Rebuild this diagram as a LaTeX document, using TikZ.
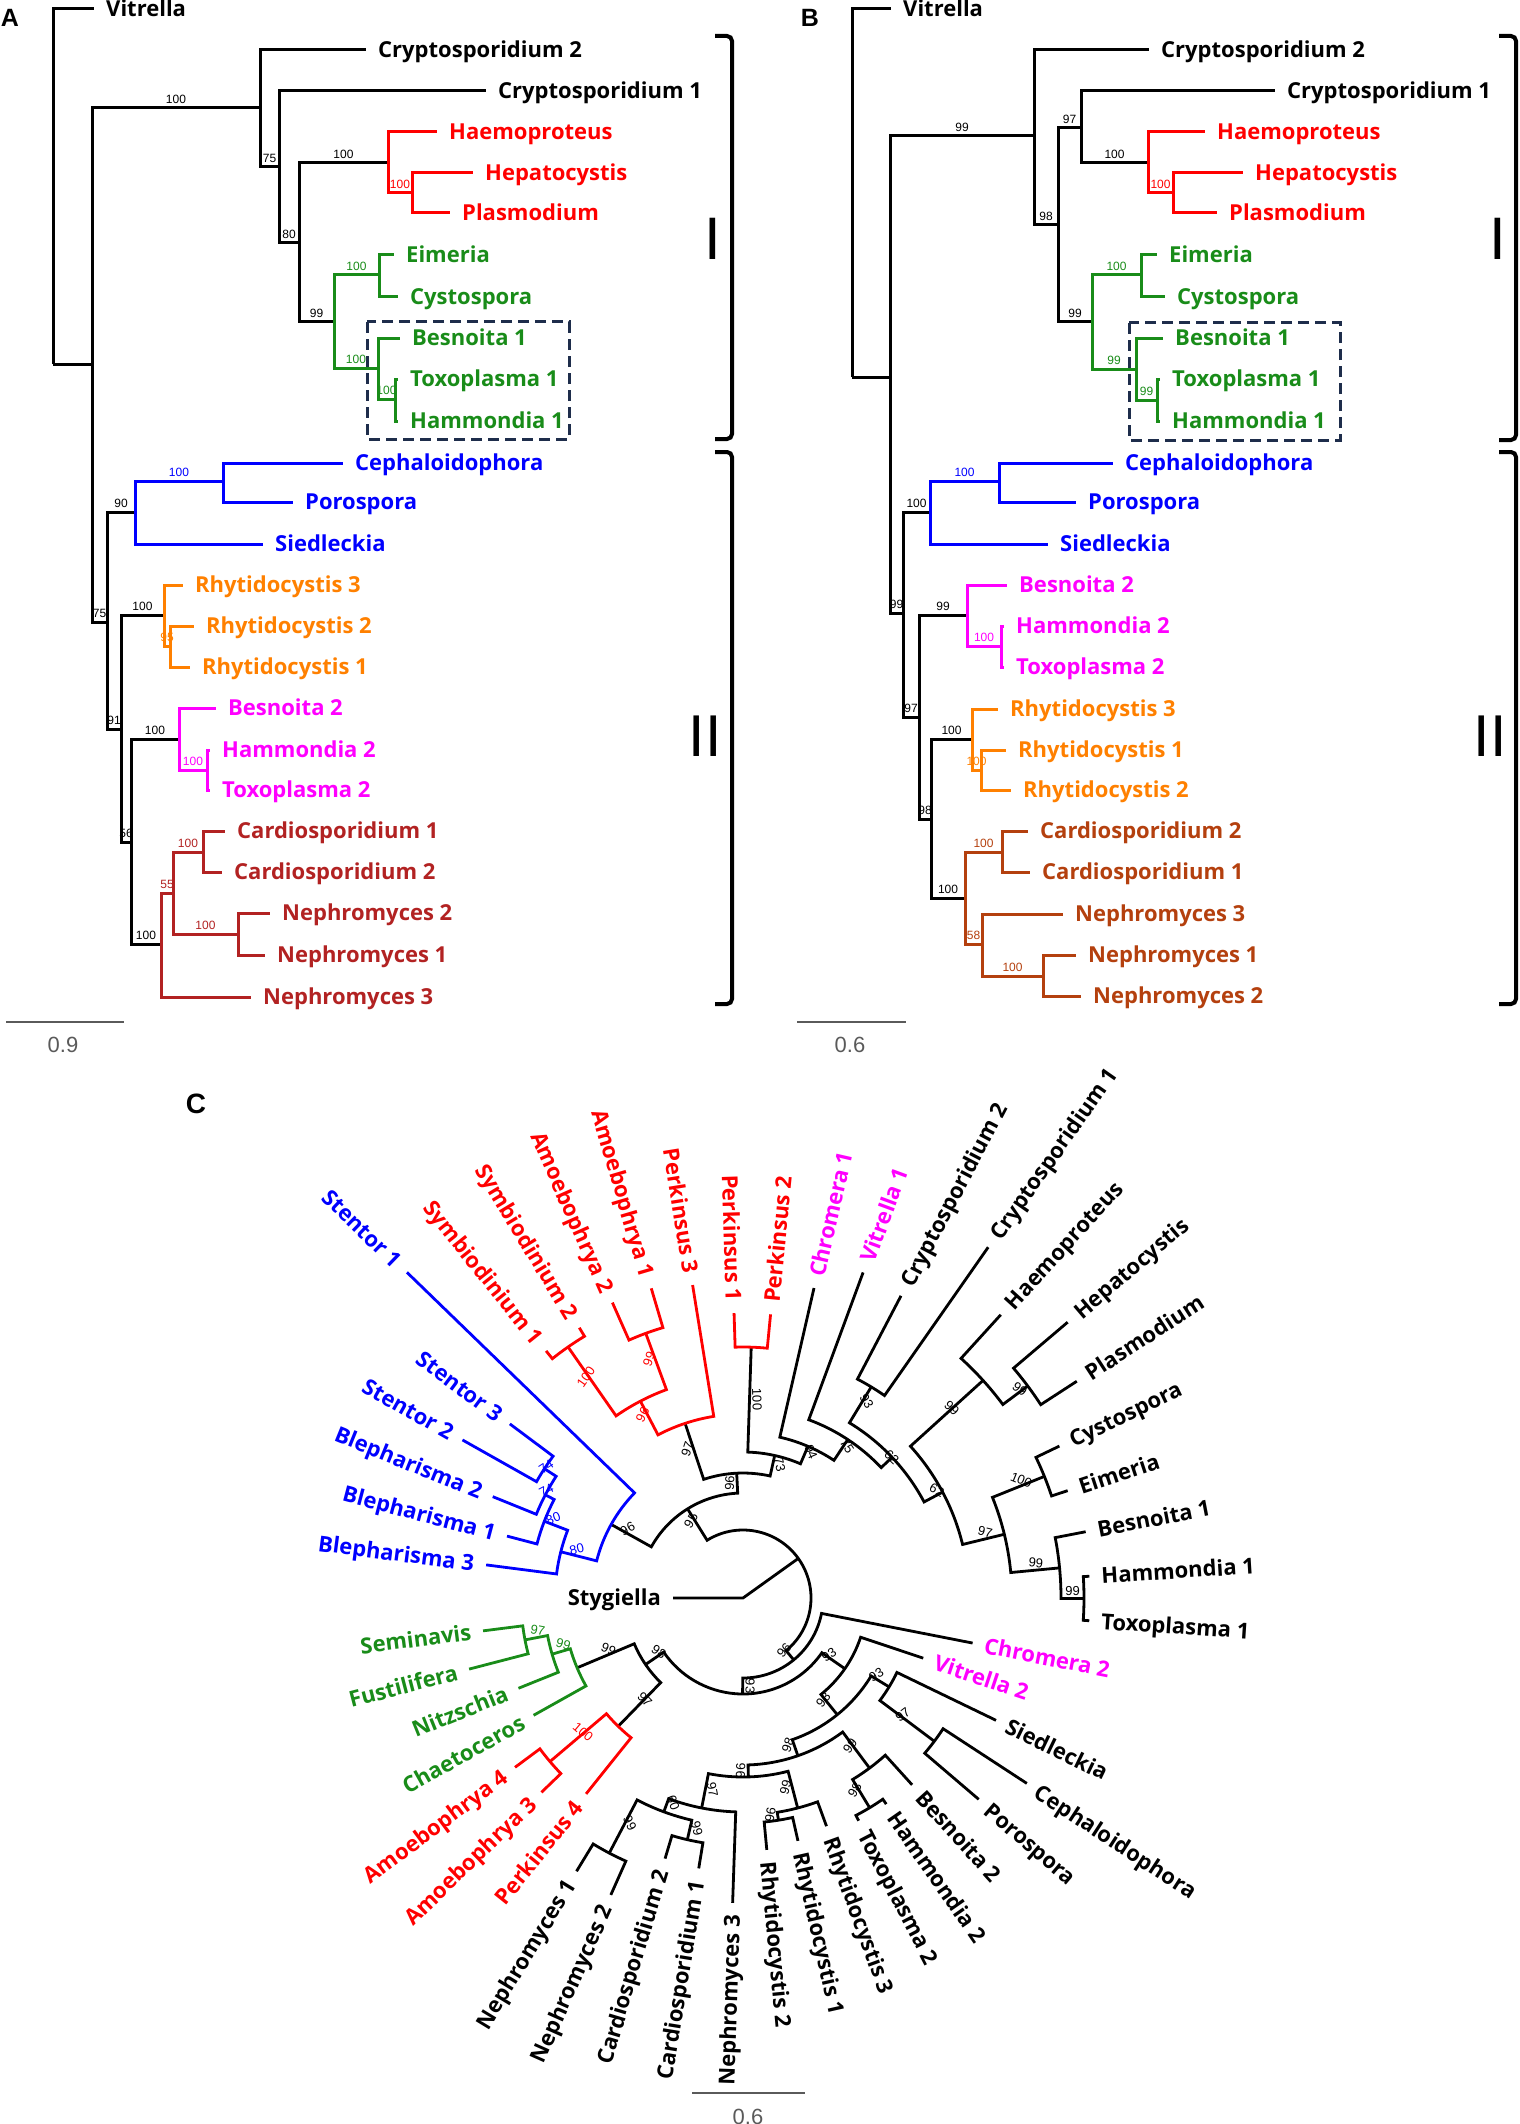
\documentclass[tikz,border=0pt]{standalone}
\usepackage{fontspec}
\setmainfont{Open Sans}
\newfontfamily\numfont{Liberation Sans}
\usetikzlibrary{calc}
\definecolor{treered}{RGB}{255,0,0}
\definecolor{treegreen}{RGB}{25,140,25}
\definecolor{treeblue}{RGB}{0,0,255}
\definecolor{treeorange}{RGB}{255,128,0}
\definecolor{treemagenta}{RGB}{255,0,255}
\definecolor{brownA}{RGB}{178,34,34}
\definecolor{brownB}{RGB}{180,64,14}
\definecolor{boxnavy}{RGB}{30,45,75}
\definecolor{scalegray}{RGB}{90,90,90}
\tikzstyle{branch}=[line width=3pt]
\tikzstyle{taxon}=[anchor=west, inner xsep=12pt, inner ysep=1pt, font=\fontsize{22}{24}\selectfont\bfseries, text height=15.7pt, text depth=0pt]
\tikzstyle{boot}=[pos=0.75, above=3pt, inner sep=0pt, font=\numfont\fontsize{12}{14}\selectfont]
\tikzstyle{cbranch}=[line width=2.8pt]
\tikzstyle{clab}=[midway, sloped, above=1.5pt, inner sep=0pt, font=\numfont\fontsize{13}{15}\selectfont]
\tikzstyle{taxonC}=[inner xsep=12pt, inner ysep=1pt, font=\fontsize{22}{24}\selectfont\bfseries, text height=15.7pt, text depth=0pt]
\tikzstyle{bracket}=[line width=4pt, rounded corners=5pt]
\tikzstyle{roman}=[inner sep=0pt, text depth=0pt, text height=43pt, font=\numfont\fontsize{60}{60}\selectfont]
\tikzstyle{panel}=[inner sep=0pt, text depth=0pt, text height=18pt, font=\numfont\bfseries\fontsize{25}{25}\selectfont]
\tikzstyle{hlbox}=[boxnavy, line width=3pt, dash pattern=on 11pt off 6pt]
\tikzstyle{scalebar}=[scalegray, line width=1.6pt]
\tikzstyle{scalelab}=[scalegray, inner sep=0pt, font=\numfont\fontsize{22}{24}\selectfont]
% one node of the circular tree: r, first child angle/radius/label, second child angle/radius/label
\newcommand\clade[8][black]{%
  \draw[cbranch,#1] (#3:#4) -- node[clab]{#5} (#3:#2)
    arc[start angle=#3, end angle=#6, radius=#2] -- node[clab]{#8} (#6:#7);}

\begin{document}
\begin{tikzpicture}[x=1pt, y=-1pt]
\useasboundingbox (0,0) rectangle (1519,2124);

% ---------------- panel A
\node[panel] (labA) at (10,18) {A};
\foreach \n/\x/\y in {rA/53/364, a1/92/364, a2/260/108, a3/279/167, a4/299/243, a5/388/163,
  a6/412/193, a7/334/322, a8/379/275, a9/378/368, a10/395/399, a12/107/622, a11/135/512,
  ab/223/481, a13/121/729, a14/164/615, a15/170/646, a16/131/842, a17/179/739, a18/207/770,
  a19/161/944, a20/173/893, a21/203/852, a22/238/934}
  \coordinate (\n) at (\x,\y);
\foreach \x/\y/\n/\t/\c in {94/9/vitA/Vitrella/black, 366/50/crA2/Cryptosporidium 2/black,
  486/91/crA1/Cryptosporidium 1/black, 437/132/haeA/Haemoproteus/treered,
  473/173/hepA/Hepatocystis/treered, 450/213/plaA/Plasmodium/treered,
  394/255/eimA/Eimeria/treegreen, 398/297/cysA/Cystospora/treegreen,
  400/338/besA1/Besnoita 1/treegreen, 398/379/toxA1/Toxoplasma 1/treegreen,
  398/421/hamA1/Hammondia 1/treegreen, 343/463/cepA/Cephaloidophora/treeblue,
  293/502/porA/Porospora/treeblue, 263/544/sieA/Siedleckia/treeblue,
  183/585/rhyA3/Rhytidocystis 3/treeorange, 194/626/rhyA2/Rhytidocystis 2/treeorange,
  190/667/rhyA1/Rhytidocystis 1/treeorange, 216/708/besA2/Besnoita 2/treemagenta,
  210/750/hamA2/Hammondia 2/treemagenta, 210/790/toxA2/Toxoplasma 2/treemagenta,
  225/831/carA1/Cardiosporidium 1/brownA, 222/872/carA2/Cardiosporidium 2/brownA,
  270/913/nepA2/Nephromyces 2/brownA, 265/955/nepA1/Nephromyces 1/brownA,
  251/997/nepA3/Nephromyces 3/brownA}
  \node[taxon,\c] (\n) at (\x,\y) {\t};
\foreach \s/\d/\w/\c in {rA/vitA//black, rA/a1//black, a1/a2/100/black, a1/a12/75/black,
  a2/crA2//black, a2/a3/75/black, a3/crA1//black, a3/a4/80/black,
  a4/a5/100/black, a4/a7/99/black, a5/haeA//treered, a5/a6/100/treered,
  a6/hepA//treered, a6/plaA//treered, a7/a8/100/treegreen, a7/a9/100/treegreen,
  a8/eimA//treegreen, a8/cysA//treegreen, a9/besA1//treegreen, a9/a10/100/treegreen,
  a10/toxA1//treegreen, a10/hamA1//treegreen, a12/a11/90/black, a12/a13/91/black,
  a11/ab/100/treeblue, a11/sieA//treeblue, ab/cepA//treeblue, ab/porA//treeblue,
  a13/a14/100/black, a13/a16/56/black, a14/rhyA3//treeorange, a14/a15/95/treeorange,
  a15/rhyA2//treeorange, a15/rhyA1//treeorange, a16/a17/100/black, a16/a19/100/black,
  a17/besA2//treemagenta, a17/a18/100/treemagenta, a18/hamA2//treemagenta, a18/toxA2//treemagenta,
  a19/a20/55/brownA, a19/nepA3//brownA, a20/a21/100/brownA, a20/a22/100/brownA,
  a21/carA1//brownA, a21/carA2//brownA, a22/nepA2//brownA, a22/nepA1//brownA}
  \draw[branch,\c] (\s) |- node[boot]{\w} (\d.west);
\draw[hlbox] (367,322) rectangle (569,439);
\draw[bracket] (715,36) -- (732,36) -- (732,439) -- (715,439);
\draw[bracket] (715,452) -- (732,452) -- (732,1004) -- (715,1004);
\node[roman] (romA1) at (713,238) {I};
\node[roman, font=\numfont\fontsize{59}{59}\selectfont, text height=42pt] (romA2) at (705,735) {II};
\draw[scalebar] (6,1022) -- (124,1022);
\node[scalelab] (scA) at (63,1045) {0.9};

% ---------------- panel B
\node[panel] (labB) at (810,18) {B};
\foreach \n/\x/\y in {rB/852/377, b1/890/377, b2/1034/136, b3/1058/225, b4/1081/128, b5/1148/163,
  b6/1173/193, b7/1092/322, b8/1141/275, b9/1136/369, b10/1157/400, b12/903/613, b11/930/512,
  bb/999/481, b13/919/717, b14/967/615, b15/1001/646, b16/931/819, b17/972/739, b18/981/770,
  b19/965/898, b20/1002/852, b21/982/944, b22/1043/976}
  \coordinate (\n) at (\x,\y);
\foreach \x/\y/\n/\t/\c in {891/9/vitB/Vitrella/black, 1149/50/crB2/Cryptosporidium 2/black,
  1275/91/crB1/Cryptosporidium 1/black, 1205/132/haeB/Haemoproteus/treered,
  1243/173/hepB/Hepatocystis/treered, 1217/213/plaB/Plasmodium/treered,
  1157/255/eimB/Eimeria/treegreen, 1165/297/cysB/Cystospora/treegreen,
  1163/338/besB1/Besnoita 1/treegreen, 1160/379/toxB1/Toxoplasma 1/treegreen,
  1160/421/hamB1/Hammondia 1/treegreen, 1113/463/cepB/Cephaloidophora/treeblue,
  1076/502/porB/Porospora/treeblue, 1048/544/sieB/Siedleckia/treeblue,
  1007/585/besB2/Besnoita 2/treemagenta, 1004/626/hamB2/Hammondia 2/treemagenta,
  1004/667/toxB2/Toxoplasma 2/treemagenta, 998/709/rhyB3/Rhytidocystis 3/treeorange,
  1006/750/rhyB1/Rhytidocystis 1/treeorange, 1011/790/rhyB2/Rhytidocystis 2/treeorange,
  1028/831/carB2/Cardiosporidium 2/brownB, 1030/872/carB1/Cardiosporidium 1/brownB,
  1063/914/nepB3/Nephromyces 3/brownB, 1076/955/nepB1/Nephromyces 1/brownB,
  1081/996/nepB2/Nephromyces 2/brownB}
  \node[taxon,\c] (\n) at (\x,\y) {\t};
\foreach \s/\d/\w/\c in {rB/vitB//black, rB/b1//black, b1/b2/99/black, b1/b12/99/black,
  b2/crB2//black, b2/b3/98/black, b3/b4/97/black, b3/b7/99/black,
  b4/crB1//black, b4/b5/100/black, b5/haeB//treered, b5/b6/100/treered,
  b6/hepB//treered, b6/plaB//treered, b7/b8/100/treegreen, b7/b9/99/treegreen,
  b8/eimB//treegreen, b8/cysB//treegreen, b9/besB1//treegreen, b9/b10/99/treegreen,
  b10/toxB1//treegreen, b10/hamB1//treegreen, b12/b11/100/black, b12/b13/97/black,
  b11/bb/100/treeblue, b11/sieB//treeblue, bb/cepB//treeblue, bb/porB//treeblue,
  b13/b14/99/black, b13/b16/98/black, b14/besB2//treemagenta, b14/b15/100/treemagenta,
  b15/hamB2//treemagenta, b15/toxB2//treemagenta, b16/b17/100/black, b16/b19/100/black,
  b17/rhyB3//treeorange, b17/b18/100/treeorange, b18/rhyB1//treeorange, b18/rhyB2//treeorange,
  b19/b20/100/brownB, b19/b21/58/brownB, b20/carB2//brownB, b20/carB1//brownB,
  b21/nepB3//brownB, b21/b22/100/brownB, b22/nepB1//brownB, b22/nepB2//brownB}
  \draw[branch,\c] (\s) |- node[boot]{\w} (\d.west);
\draw[hlbox] (1129,323) rectangle (1340,440);
\draw[bracket] (1499,36) -- (1516,36) -- (1516,440) -- (1499,440);
\draw[bracket] (1499,452) -- (1516,452) -- (1516,1004) -- (1499,1004);
\node[roman] (romB1) at (1498,238) {I};
\node[roman, font=\numfont\fontsize{59}{59}\selectfont, text height=42pt] (romB2) at (1490,735) {II};
\draw[scalebar] (797,1022) -- (906,1022);
\node[scalelab] (scB) at (850,1045) {0.6};

% ---------------- panel C (circular tree, angles in degrees, radii in px)
\node[panel, font=\numfont\bfseries\fontsize{28}{28}\selectfont, text height=20pt] (labC) at (196,1103) {C};
\begin{scope}[shift={(743,1598)}, yscale=-1]
\foreach \a/\r/\t/\c [count=\i] in {180/70/Stygiella/black,
  172.65/259/Blepharisma 3/treeblue, 165.3/244/Blepharisma 1/treeblue,
  157.95/270/Blepharisma 2/treeblue, 150.6/322/Stentor 2/treeblue,
  143.25/291/Stentor 3/treeblue, 135.9/468/Stentor 1/treeblue,
  128.55/316/Symbiodinium 1/treered, 121.2/316/Symbiodinium 2/treered,
  113.85/323/Amoebophrya 2/treered, 106.5/323/Amoebophrya 1/treered,
  99.15/317/Perkinsus 3/treered, 91.8/285/Perkinsus 1/treered, 84.45/285/Perkinsus 2/treered,
  77.1/318/Chromera 1/treemagenta, 69.75/347/Vitrella 1/treemagenta,
  62.4/341/Cryptosporidium 2/black, 55.05/428/Cryptosporidium 1/black,
  47.7/383/Haemoproteus/black, 40.35/426/Hepatocystis/black, 33.0/398/Plasmodium/black,
  25.65/351/Cystospora/black, 18.3/342/Eimeria/black, 10.95/349/Besnoita 1/black,
  3.6/347/Hammondia 1/black, -3.75/347/Toxoplasma 1/black,
  -11.1/234/Chromera 2/treemagenta, -18.45/190/Vitrella 2/treemagenta,
  -25.8/281/Siedleckia/black, -33.15/339/Cephaloidophora/black, -40.5/310/Porospora/black,
  -47.85/252/Besnoita 2/black, -55.2/251/Hammondia 2/black, -62.55/251/Toxoplasma 2/black,
  -69.9/243/Rhytidocystis 3/black, -77.25/249/Rhytidocystis 1/black,
  -84.6/253/Rhytidocystis 2/black, -91.95/305/Nephromyces 3/black,
  -99.3/274/Cardiosporidium 1/black, -106.65/272/Cardiosporidium 2/black,
  -114.0/325/Nephromyces 2/black, -121.35/320/Nephromyces 1/black,
  -128.7/251/Perkinsus 4/treered, -136.05/280/Amoebophrya 3/treered,
  -143.4/284/Amoebophrya 4/treered, -150.75/240/Chaetoceros/treegreen,
  -158.1/242/Nitzschia/treegreen, -165.45/283/Fustilifera/treegreen,
  -172.8/262/Seminavis/treegreen}{
  \pgfmathsetmacro\side{cos(\a)}
  \ifdim\side pt<0pt
    \node[taxonC,\c,anchor=east,rotate=\a-180] (leafC\i) at (\a:\r) {\t};
  \else
    \node[taxonC,\c,anchor=west,rotate=\a] (leafC\i) at (\a:\r) {\t};
  \fi
}
% root
\draw[cbranch] (180:70) -- (0:0) -- (35.6:68);
\clade{68}{121.87}{105}{95}{-50.67}{80}{96}
% ciliates
\clade{105}{150.83}{151}{96}{92.9}{125}{96}
\clade[treeblue]{151}{165.76}{188}{80}{135.9}{468}{}
\clade[treeblue]{188}{172.65}{259}{}{158.87}{213}{80}
\clade[treeblue]{213}{165.3}{244}{}{152.44}{223}{74}
\clade[treeblue]{223}{157.95}{270}{}{146.925}{237}{74}
\clade[treeblue]{237}{150.6}{322}{}{143.25}{291}{}
% dinoflagellates and Perkinsus
\clade{125}{108.34}{184}{97}{77.47}{146}{73}
\clade[treered]{184}{117.525}{222}{96}{99.15}{317}{}
\clade[treered]{222}{124.875}{306}{100}{110.175}{282}{99}
\clade[treered]{306}{128.55}{316}{}{121.2}{316}{}
\clade[treered]{282}{113.85}{323}{}{106.5}{323}{}
\clade{146}{88.125}{251}{100}{66.82}{165}{94}
\clade[treered]{251}{91.8}{285}{}{84.45}{285}{}
% chromerids and apicomplexans, upper half
\clade{165}{77.1}{318}{}{56.54}{190}{75}
\clade{190}{69.75}{347}{}{43.34}{205}{62}
\clade{205}{58.725}{247}{93}{27.95}{226}{62}
\clade{247}{62.4}{341}{}{55.05}{428}{}
\clade{226}{42.19}{324}{99}{13.706}{269}{97}
\clade{324}{47.7}{383}{}{36.675}{355}{99}
\clade{355}{40.35}{426}{}{33.0}{398}{}
\clade{269}{21.975}{325}{100}{5.4375}{318}{99}
\clade{325}{25.65}{351}{}{18.3}{342}{}
\clade{318}{10.95}{349}{}{-0.075}{341}{99}
\clade{341}{3.6}{347}{}{-3.75}{347}{}
% lower half
\clade{80}{-11.1}{234}{}{-90.23}{96}{93}
\clade{96}{-34.76}{124}{93}{-145.7}{118}{98}
\clade{124}{-18.45}{190}{}{-51.06}{150}{93}
\clade{150}{-31.31}{171}{93}{-70.82}{167}{98}
\clade{171}{-25.8}{281}{}{-36.825}{239}{97}
\clade{239}{-33.15}{339}{}{-40.5}{310}{}
\clade{167}{-53.36}{212}{99}{-88.27}{179}{96}
\clade{212}{-47.85}{252}{}{-58.875}{245}{98}
\clade{245}{-55.2}{251}{}{-62.55}{251}{}
\clade{179}{-75.41}{217}{99}{-101.14}{214}{97}
\clade{217}{-69.9}{243}{}{-80.925}{225}{96}
\clade{225}{-77.25}{249}{}{-84.6}{253}{}
\clade{214}{-91.95}{305}{}{-110.325}{228}{60}
\clade{228}{-102.975}{248}{99}{-117.675}{288}{99}
\clade{248}{-99.3}{274}{}{-106.65}{272}{}
\clade{288}{-114.0}{325}{}{-121.35}{320}{}
% diatoms and the second dinoflagellate group
\clade{118}{-157.18}{180}{99}{-134.21}{179}{97}
\clade[treegreen]{180}{-163.61}{199}{99}{-150.75}{240}{}
\clade[treegreen]{199}{-169.125}{222}{97}{-158.1}{242}{}
\clade[treegreen]{222}{-172.8}{262}{}{-165.45}{283}{}
\clade[treered]{179}{-139.725}{253}{100}{-128.7}{251}{}
\clade[treered]{253}{-143.4}{284}{}{-136.05}{280}{}
\end{scope}
\draw[scalebar] (692,2093) -- (805,2093);
\node[scalelab] (scC) at (748,2117) {0.6};
\end{tikzpicture}
\end{document}
